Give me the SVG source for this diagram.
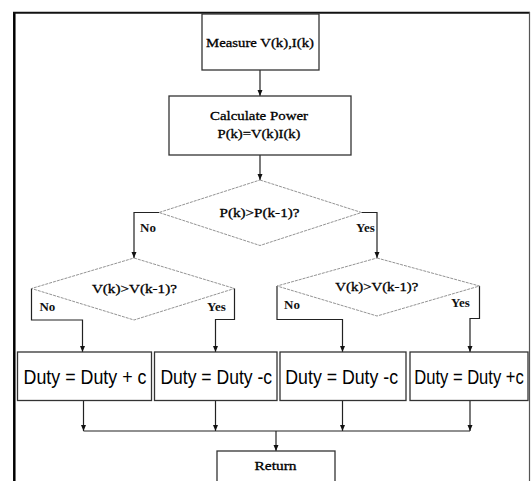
<svg xmlns="http://www.w3.org/2000/svg" width="531" height="481" viewBox="0 0 531 481">
<style>
.bg{fill:#fff}
.box{fill:#fff;stroke:#333;stroke-width:1.3}
.dia{fill:#fff;stroke:#777;stroke-width:0.8;stroke-dasharray:3 1}
.con{fill:none;stroke:#222;stroke-width:1.2}
.t{font-family:"Liberation Serif","Times New Roman",serif;font-size:13px;fill:#000;stroke:#000;stroke-width:0.3;text-anchor:middle}
.lb{font-family:"Liberation Serif","Times New Roman",serif;font-size:13px;font-weight:bold;fill:#111;text-anchor:middle}
.d{font-family:"Liberation Sans",Arial,sans-serif;font-size:19.5px;fill:#000;text-anchor:middle}
</style>
<defs>
<marker id="ah" markerUnits="userSpaceOnUse" markerWidth="6" markerHeight="6" refX="6" refY="3" orient="auto">
<path d="M0,0.5 L6,3 L0,5.5 z" fill="#111"/>
</marker>
</defs>
<rect class="bg" x="0" y="0" width="531" height="481"/>
<g id="frame">
<line x1="14.3" y1="481" x2="14.3" y2="12.7" stroke="#000" stroke-width="2.5"/>
<line x1="13" y1="12.7" x2="530" y2="12.7" stroke="#111" stroke-width="2"/>
<line x1="529.5" y1="12" x2="529.5" y2="481" stroke="#555" stroke-width="1.2"/>
</g>
<g id="connectors">
<path class="con" d="M260,70 V96" marker-end="url(#ah)"/>
<path class="con" d="M260,155 V180" marker-end="url(#ah)"/>
<path class="con" d="M159,212.5 H134 V258" marker-end="url(#ah)"/>
<path class="con" d="M361.5,212.5 H377 V258" marker-end="url(#ah)"/>
<path class="con" d="M31.5,288.5 V320 H82.5 V352" marker-end="url(#ah)"/>
<path class="con" d="M234.5,288.5 V319.5 H215.5 V352" marker-end="url(#ah)"/>
<path class="con" d="M277,286 V319.5 H342.5 V352" marker-end="url(#ah)"/>
<path class="con" d="M479.5,286 V318.5 H470 V352" marker-end="url(#ah)"/>
<path class="con" d="M83.5,400.5 V431" marker-end="url(#ah)"/>
<path class="con" d="M215.5,400.5 V431" marker-end="url(#ah)"/>
<path class="con" d="M342.5,400.5 V431" marker-end="url(#ah)"/>
<path class="con" d="M470,400.5 V431" marker-end="url(#ah)"/>
<path class="con" d="M83.5,431 H470"/>
<path class="con" d="M276,431 V451" marker-end="url(#ah)"/>
</g>
<g id="measure">
<rect class="box" x="202" y="14" width="117" height="56"/>
<text class="t" x="260" y="46.5" textLength="108" lengthAdjust="spacingAndGlyphs">Measure V(k),I(k)</text>
</g>
<g id="calc">
<rect class="box" x="169" y="96" width="182" height="59"/>
<text class="t" x="259" y="119.5" textLength="98" lengthAdjust="spacingAndGlyphs">Calculate Power</text>
<text class="t" x="259" y="137.5" textLength="83" lengthAdjust="spacingAndGlyphs">P(k)=V(k)I(k)</text>
</g>
<g id="dec1">
<polygon class="dia" points="260,180 361.5,212.5 260,245.5 159,212.5"/>
<text class="t" x="259.5" y="217" textLength="80" lengthAdjust="spacingAndGlyphs">P(k)&gt;P(k-1)?</text>
<text class="lb" x="148" y="231.5">No</text>
<text class="lb" x="365.5" y="231.5">Yes</text>
</g>
<g id="dec2">
<polygon class="dia" points="134,258 234.5,288.5 134,320 31.5,288.5"/>
<text class="t" x="134.4" y="293" textLength="85" lengthAdjust="spacingAndGlyphs">V(k)&gt;V(k-1)?</text>
<text class="lb" x="47.4" y="311">No</text>
<text class="lb" x="216.5" y="311">Yes</text>
</g>
<g id="dec3">
<polygon class="dia" points="377,258 479.5,286 377,316 277,286"/>
<text class="t" x="376.8" y="291" textLength="83" lengthAdjust="spacingAndGlyphs">V(k)&gt;V(k-1)?</text>
<text class="lb" x="292" y="309">No</text>
<text class="lb" x="460.5" y="307">Yes</text>
</g>
<g id="box1">
<rect class="box" x="17.5" y="352" width="134" height="48.5"/>
<text class="d" transform="translate(85,384) scale(0.915,1)">Duty = Duty + c</text>
</g>
<g id="box2">
<rect class="box" x="154.5" y="352" width="122.5" height="48.5"/>
<text class="d" transform="translate(216.2,384) scale(0.9,1)">Duty = Duty -c</text>
</g>
<g id="box3">
<rect class="box" x="280" y="352" width="126" height="48.5"/>
<text class="d" transform="translate(341.7,384) scale(0.91,1)">Duty = Duty -c</text>
</g>
<g id="box4">
<rect class="box" x="410" y="352" width="118" height="48.5"/>
<text class="d" transform="translate(469,384) scale(0.85,1)">Duty = Duty +c</text>
</g>
<g id="return">
<rect class="box" x="217" y="451" width="118" height="36"/>
<text class="t" x="275.5" y="469.5" textLength="42" lengthAdjust="spacingAndGlyphs">Return</text>
</g>
</svg>
